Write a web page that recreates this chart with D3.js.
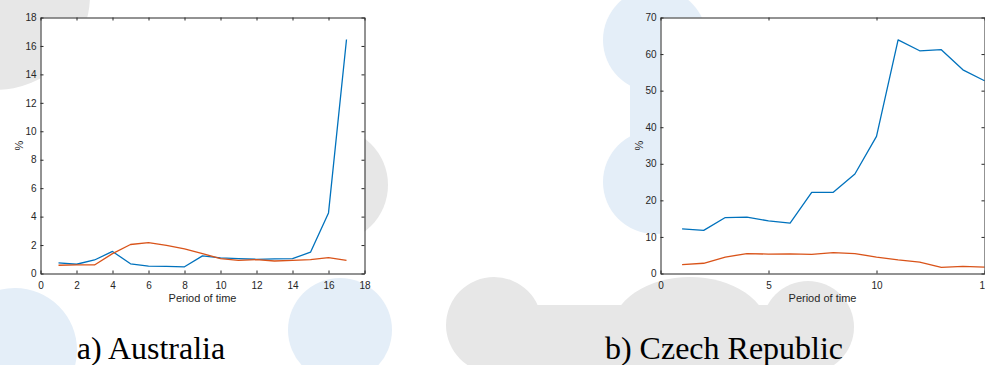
<!DOCTYPE html>
<html>
<head>
<meta charset="utf-8">
<script src="https://cdn.jsdelivr.net/npm/d3@7"></script>
<style>
  html, body { margin: 0; padding: 0; background: #fff; overflow: hidden; }
  svg { display: block; }
  .tick text { font-family: "Liberation Sans", Arial, sans-serif; font-size: 10px; fill: #262626; }
</style>
</head>
<body>
<svg id="chart" width="985" height="365"></svg>
<script>
// ---- data ----
const periodsAU = [1,2,3,4,5,6,7,8,9,10,11,12,13,14,15,16,17];
const australiaBlue   = [0.75,0.65,0.95,1.55,0.68,0.52,0.50,0.47,1.24,1.10,1.05,1.00,1.03,1.04,1.50,4.26,16.45];
const australiaOrange = [0.58,0.60,0.60,1.40,2.04,2.17,1.98,1.73,1.40,1.05,0.92,0.97,0.88,0.92,0.97,1.12,0.93];

const periodsCZ = [1,2,3,4,5,6,7,8,9,10,11,12,13,14,15];
const czechBlue   = [12.2,11.8,15.3,15.4,14.4,13.8,22.2,22.2,27.2,37.5,63.9,60.9,61.2,55.7,52.7];
const czechOrange = [2.4,2.8,4.5,5.45,5.3,5.35,5.25,5.7,5.45,4.5,3.7,3.1,1.7,1.95,1.75];

const xTicksAU = [0,2,4,6,8,10,12,14,16,18];
const yTicksAU = [0,2,4,6,8,10,12,14,16,18];
const xTicksCZ = [0,5,10,15];
const yTicksCZ = [0,10,20,30,40,50,60,70];

const xLabel = "Period of time";
const yLabel = "%";
const captionAU = "a) Australia";
const captionCZ = "b) Czech Republic";

const colorBlue = "#0072BD";
const colorOrange = "#D95319";

const svg = d3.select("#chart");

// ---- background watermark ----
const wm = svg.append("g");
const gray = "#e7e7e7", lblue = "#e4eef8";
[
  {cx:-5, cy:-5, r:95, c:gray},
  {cx:330, cy:185, r:58, c:gray},
  {cx:494, cy:325, r:48, c:gray},
  {cx:808, cy:327, r:46, c:gray},
  {cx:15, cy:350, r:62, c:lblue},
  {cx:340, cy:330, r:52, c:lblue},
  {cx:655, cy:40, r:52, c:lblue},
  {cx:655, cy:182, r:52, c:lblue}
].forEach(d => wm.append("circle").attr("cx", d.cx).attr("cy", d.cy).attr("r", d.r).attr("fill", d.c));
wm.append("ellipse").attr("cx", 690).attr("cy", 330).attr("rx", 78).attr("ry", 53).attr("fill", gray);
wm.append("rect").attr("x", 494).attr("y", 305).attr("width", 320).attr("height", 60).attr("fill", gray);
wm.append("rect").attr("x", 630).attr("y", 40).attr("width", 50).attr("height", 142).attr("fill", lblue);

// ---- panel builder ----
function panel(opts) {
  const {x0, x1, y0, y1, xDomain, yDomain, xTicks, yTicks, periods, blue, orange, caption, capX} = opts;
  const x = d3.scaleLinear().domain(xDomain).range([x0, x1]);
  const y = d3.scaleLinear().domain(yDomain).range([y1, y0]);
  const g = svg.append("g");

  g.append("rect").attr("x", x0).attr("y", y0).attr("width", x1 - x0).attr("height", y1 - y0).attr("fill", "#fff");

  const line = d3.line().x((d, i) => x(periods[i])).y(d => y(d));
  g.append("path").datum(blue).attr("d", line).attr("fill", "none")
    .attr("stroke", colorBlue).attr("stroke-width", 1.3).attr("stroke-linejoin", "round");
  g.append("path").datum(orange).attr("d", line).attr("fill", "none")
    .attr("stroke", colorOrange).attr("stroke-width", 1.3).attr("stroke-linejoin", "round");

  const styleAxis = sel => {
    sel.selectAll("path.domain").attr("stroke", "#262626").attr("stroke-width", 1);
    sel.selectAll(".tick line").attr("stroke", "#262626").attr("stroke-width", 1);
  };

  g.append("g").attr("transform", `translate(0,${y1})`)
    .call(d3.axisBottom(x).tickValues(xTicks).tickSizeInner(-3).tickSizeOuter(0).tickPadding(8).tickFormat(d3.format("d")))
    .call(styleAxis).call(s => s.select(".domain").attr("stroke-width", 1));
  g.append("g").attr("transform", `translate(0,${y0})`)
    .call(d3.axisTop(x).tickValues(xTicks).tickSizeInner(-3).tickSizeOuter(0).tickFormat(""))
    .call(styleAxis);
  g.append("g").attr("transform", `translate(${x0},0)`)
    .call(d3.axisLeft(y).tickValues(yTicks).tickSizeInner(-3).tickSizeOuter(0).tickPadding(4).tickFormat(d3.format("d")))
    .call(styleAxis);
  g.append("g").attr("transform", `translate(${x1},0)`)
    .call(d3.axisRight(y).tickValues(yTicks).tickSizeInner(-3).tickSizeOuter(0).tickFormat(""))
    .call(styleAxis);

  g.append("text").attr("x", (x0 + x1) / 2).attr("y", 301.5).attr("text-anchor", "middle")
    .attr("font-family", "Liberation Sans, Arial, sans-serif").attr("font-size", 11).attr("fill", "#262626")
    .text(xLabel);
  g.append("text").attr("transform", `translate(${x0 - 21},${(y0 + y1) / 2}) rotate(-90)`)
    .attr("text-anchor", "middle").attr("dy", "0.35em")
    .attr("font-family", "Liberation Sans, Arial, sans-serif").attr("font-size", 11).attr("fill", "#262626")
    .text(yLabel);

  svg.append("text").attr("x", capX).attr("y", 359).attr("text-anchor", "middle")
    .attr("font-family", "Liberation Serif, 'Times New Roman', serif").attr("font-size", 32).attr("fill", "#000")
    .text(caption);
}

panel({x0: 40.5, x1: 364.5, y0: 17.5, y1: 273.5, xDomain: [0, 18], yDomain: [0, 18],
  xTicks: xTicksAU, yTicks: yTicksAU, periods: periodsAU, blue: australiaBlue, orange: australiaOrange,
  caption: captionAU, capX: 151});
panel({x0: 660.5, x1: 984.5, y0: 17.5, y1: 273.5, xDomain: [0, 15], yDomain: [0, 70],
  xTicks: xTicksCZ, yTicks: yTicksCZ, periods: periodsCZ, blue: czechBlue, orange: czechOrange,
  caption: captionCZ, capX: 724});
</script>
</body>
</html>
